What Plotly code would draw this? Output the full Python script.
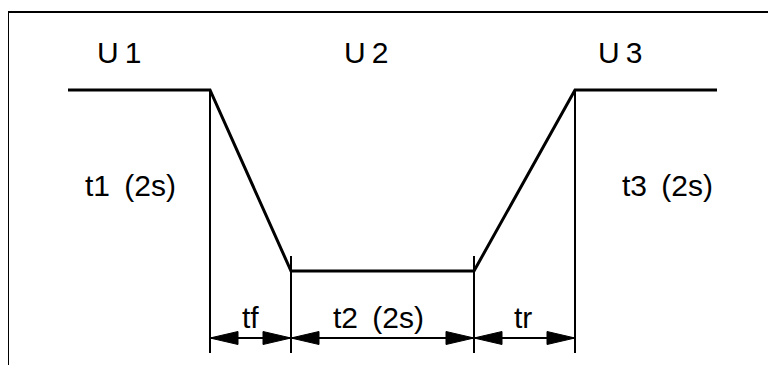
import plotly.graph_objects as go

# waveform (drawing units = screen px, y grows downward)
wave_x = [68, 210, 291, 474, 575, 717]
wave_y = [90, 90, 271, 271, 90, 90]

# vertical dimension markers
marker_x = [210, 291, 474, 575]
marker_top = [90, 256, 256, 90]
marker_bottom = 353
dim_y = 338

# labels
level_labels = ["U\u20091", "U\u20092", "U\u20093"]
level_x = [119, 366, 620]
level_y = 52
phase_labels = ["t1 \u2009(2s)", "t3 \u2009(2s)"]
phase_x = [130, 667]
phase_y = 185
interval_labels = ["tf", "t2 \u2009(2s)", "tr"]
interval_x = [250, 378, 523]
interval_y = 317

W, H = 776, 365
PAGE_PAD = 8  # browser body margin around the plot div
ARROW_LEN = 28
ARROW_HALF = 6.5
FONT = dict(family="Liberation Sans, Arial, sans-serif", size=30, color="black")

fig = go.Figure()

# waveform
fig.add_trace(go.Scatter(x=wave_x, y=wave_y, mode="lines",
                         line=dict(color="black", width=3), hoverinfo="skip"))

# markers
for x0, top in zip(marker_x, marker_top):
    fig.add_shape(type="line", x0=x0, x1=x0, y0=top, y1=marker_bottom,
                  line=dict(color="black", width=2))

# dimension lines + arrowheads pointing out to the markers
for left, right in zip(marker_x[:-1], marker_x[1:]):
    fig.add_shape(type="line", x0=left, x1=right, y0=dim_y, y1=dim_y,
                  line=dict(color="black", width=2))
    for tip, d in ((left, 1), (right, -1)):
        back = tip + d * ARROW_LEN
        fig.add_trace(go.Scatter(
            x=[tip, back, back, tip], y=[dim_y, dim_y - ARROW_HALF, dim_y + ARROW_HALF, dim_y],
            mode="lines", fill="toself", fillcolor="black",
            line=dict(color="black", width=1), hoverinfo="skip"))

# frame (open to the right and bottom)
fig.add_shape(type="path", path=f"M 8 {H + PAGE_PAD} L 8 12 L {W + PAGE_PAD} 12",
              line=dict(color="black", width=2))

for txt, x in zip(level_labels, level_x):
    fig.add_annotation(x=x, y=level_y, text=txt, showarrow=False, font=FONT)
for txt, x in zip(phase_labels, phase_x):
    fig.add_annotation(x=x, y=phase_y, text=txt, showarrow=False, font=FONT)
for txt, x in zip(interval_labels, interval_x):
    fig.add_annotation(x=x, y=interval_y, text=txt, showarrow=False, font=FONT)

fig.update_xaxes(range=[PAGE_PAD, W + PAGE_PAD], visible=False, fixedrange=True)
fig.update_yaxes(range=[H + PAGE_PAD, PAGE_PAD], visible=False, fixedrange=True)
fig.update_layout(
    width=W, height=H,
    margin=dict(l=0, r=0, t=0, b=0),
    plot_bgcolor="white", paper_bgcolor="white",
    showlegend=False,
)

fig.write_html("out.html", config={"displayModeBar": False})
